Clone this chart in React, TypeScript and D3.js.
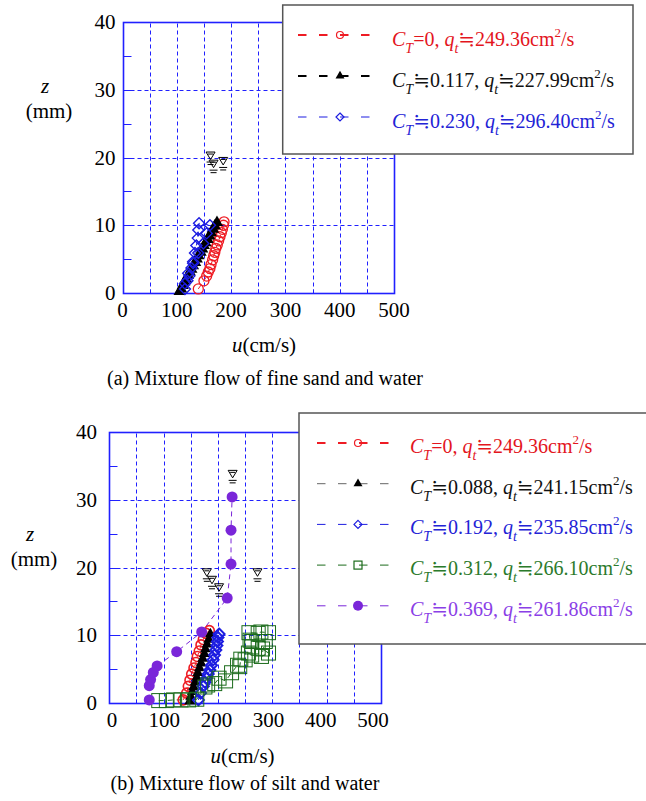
import React from 'react'
import * as d3 from 'd3'

const FONT = 'Liberation Serif, DejaVu Serif, serif'

const RED = '#ee1c24'
const BLUE = '#1c1ce0'
const GREEN = '#1b6b1b'
const PURPLE = '#7a26d9'
const GRID = '#2020ff'

// u (cm/s), z (mm)
// (a) fine sand and water
const sandC0 = [[139.6, 0.6], [150, 1.8], [155, 2.5], [158, 3.1], [161, 3.6], [163, 4.2], [166, 4.9], [168, 5.5], [170, 6.0], [172, 6.6], [174.5, 7.1], [177, 7.7], [179.5, 8.3], [182, 8.9], [184, 9.4], [186, 10.0], [187, 10.5]]
const sand117 = [[105, 0.2], [108, 0.6], [111, 1.1], [114, 1.6], [117, 2.1], [121, 2.6], [124, 3.1], [127, 3.5], [130, 4.0], [134, 4.5], [137, 5.0], [140, 5.5], [144, 6.0], [147, 6.5], [150, 7.0], [153, 7.4], [157, 7.9], [160, 8.4], [163, 8.9], [167, 9.4], [170, 9.9], [174, 10.4]]
const sand230 = [[115, 0.6], [119.6, 1.8], [123, 2.5], [127, 3.7], [130, 4.6], [133.5, 5.9], [136, 7.0], [138.7, 8.1], [139.6, 9.3], [141, 10.3], [161, 10.0], [155, 8.8], [148.8, 7.3], [139.6, 5.9], [130, 4.4], [121, 2.9], [115, 1.4]]
const sandSurface = [[162.2, 19.7], [167.7, 18.5], [185.4, 18.9]]
const sandCt = ['=0', '≒0.117', '≒0.230']
const sandQt = ['249.36', '227.99', '296.40']

// (b) silt and water
const siltC0 = [[136, 0.5], [142.4, 1.5], [145.4, 2.5], [148.5, 3.4], [151.6, 4.3], [155.9, 5.2], [159.5, 6.0], [162, 6.9], [165.6, 7.7], [168.8, 8.6], [173, 9.4], [178, 10.3], [184, 10.7]]
const silt088 = [[148, 0.3], [150, 1.0], [153, 1.7], [155, 2.4], [158, 3.1], [161, 3.8], [163, 4.5], [166, 5.2], [169, 5.9], [172, 6.6], [175, 7.3], [177, 8.0], [180, 8.7], [183, 9.4], [186, 10.2]]
const silt192 = [[164, 0.5], [168, 1.5], [173, 2.5], [176, 3.1], [179, 3.7], [182, 4.3], [185, 4.9], [188, 5.6], [191, 6.4], [193.5, 7.1], [196, 7.85], [198, 8.5], [199, 9.1], [200, 9.7], [202, 10.2]]
const silt312 = [[91, 0.4], [105, 0.4], [118, 0.5], [132, 0.5], [146, 0.5], [161, 0.6], [176, 2.4], [181, 2.7], [194, 2.9], [202, 3.7], [214, 3.3], [225, 4.5], [236, 5.6], [240, 5.4], [242, 6.5], [250, 6.4], [256, 7.4], [262, 7.1], [262, 8.3], [274, 8.1], [282, 8.0], [293, 7.4], [280, 6.9], [287, 9.1], [262, 9.1], [259, 9.3], [257, 10.4], [274, 10.3], [279, 10.5], [293, 10.4]]
const silt369 = [[73.5, 0.5], [73.5, 2.6], [76, 3.5], [81, 4.55], [88, 5.5], [124, 7.6], [170, 10.5], [217, 15.5], [224, 20.5], [224, 25.5], [226, 30.4]]
const siltSurface = [[227, 33.2], [179.5, 18.7], [189, 17.6], [202, 16.5], [272.7, 18.7]]
const siltCt = ['=0', '≒0.088', '≒0.192', '≒0.312', '≒0.369']
const siltQt = ['249.36', '241.15', '235.85', '266.10', '261.86']

const xTickValues = [0, 100, 200, 300, 400, 500]
const xGridValues = [50, 100, 150, 200, 250, 300, 350, 400, 450]
const yTickValues = [0, 10, 20, 30, 40]
const yGridValues = [10, 20, 30]
const yMinorValues = [0, 5, 10, 15, 20, 25, 30, 35, 40]

// keep 1px lines crisp
const snap = v => Math.round(v) + 0.5

function Marker({ kind, cx, cy, s, color, sw = 1.3 }) {
  if (kind === 'circle') return <circle cx={cx} cy={cy} r={s} fill="none" stroke={color} strokeWidth={sw} />
  if (kind === 'dot') return <circle cx={cx} cy={cy} r={s} fill={color} />
  if (kind === 'triangle') {
    const h = s * Math.sqrt(3) / 2
    return <path d={`M${cx},${cy - h * 2 / 3}L${cx + s / 2},${cy + h / 3}L${cx - s / 2},${cy + h / 3}Z`} fill={color} />
  }
  if (kind === 'diamond') return <path d={`M${cx},${cy - s}L${cx + s},${cy}L${cx},${cy + s}L${cx - s},${cy}Z`} fill="none" stroke={color} strokeWidth={sw} />
  return <rect x={cx - s} y={cy - s} width={2 * s} height={2 * s} fill="none" stroke={color} strokeWidth={sw} />
}

function Surface({ cx, cy }) {
  return <g stroke="#000" strokeWidth={1} fill="none">
    <path d={`M${cx - 4.5},${cy - 7.5}L${cx + 4.5},${cy - 7.5}L${cx},${cy}Z`} />
    <line x1={cx - 2.5} x2={cx + 2.5} y1={cy - 5.5} y2={cy - 5.5} />
    <line x1={cx - 4} x2={cx + 4} y1={cy + 2.5} y2={cy + 2.5} />
    <line x1={cx - 3} x2={cx + 3} y1={cy + 5} y2={cy + 5} />
  </g>
}

function LegendLabel({ x, y, ct, qt, color }) {
  return <text x={x} y={y} fill={color} fontSize={20}>
    <tspan fontStyle="italic">C</tspan>
    <tspan fontStyle="italic" fontSize={14} dy={7}>T</tspan>
    <tspan dy={-7}>{ct + ', '}</tspan>
    <tspan fontStyle="italic">q</tspan>
    <tspan fontStyle="italic" fontSize={14} dy={7}>t</tspan>
    <tspan dy={-7}>{'≒' + qt + 'cm'}</tspan>
    <tspan fontSize={13} dy={-9}>2</tspan>
    <tspan dy={9}>/s</tspan>
  </text>
}

function Panel({ frame, series, surface, legend, labelRange, yLabelX, zLabel, uLabel, caption }) {
  const x = d3.scaleLinear().domain([0, 500]).range([frame.left, frame.right])
  const y = d3.scaleLinear().domain([0, 40]).range([frame.bottom, frame.top])
  const xl = d3.scaleLinear().domain([0, 500]).range(labelRange || [frame.left, frame.right])
  const line = d3.line().x(d => x(d[0])).y(d => y(d[1]))
  const x0 = snap(x(0)), x1 = snap(x(500)), y0 = snap(y(0)), y1 = snap(y(40))

  return <g>
    {xGridValues.map(v => <line key={'gx' + v} x1={snap(x(v))} x2={snap(x(v))} y1={y0} y2={y1}
      stroke={GRID} strokeWidth={1} strokeDasharray="4,3" />)}
    {yGridValues.map(v => <line key={'gy' + v} x1={x0} x2={x1} y1={snap(y(v))} y2={snap(y(v))}
      stroke={GRID} strokeWidth={1} strokeDasharray="4,3" />)}
    {yMinorValues.map(v => <line key={'ty' + v} x1={x0} x2={x0 + 8} y1={snap(y(v))} y2={snap(y(v))}
      stroke={GRID} strokeWidth={1} />)}
    {xGridValues.map(v => <line key={'tx' + v} x1={snap(x(v))} x2={snap(x(v))} y1={y0} y2={y0 - 4}
      stroke={GRID} strokeWidth={1} />)}
    <rect x={x0} y={y1} width={x1 - x0} height={y0 - y1} fill="none" stroke={GRID} strokeWidth={1.6} />

    {series.map((s, i) => <path key={'l' + i} d={line(s.data)} fill="none" stroke={s.color}
      strokeWidth={1} strokeDasharray="5,4" />)}
    {series.map((s, i) => <g key={'m' + i}>
      {s.data.map((d, j) => <Marker key={j} kind={s.marker} cx={x(d[0])} cy={y(d[1])} s={s.size} color={s.color} sw={s.sw} />)}
    </g>)}
    {surface.map((d, i) => <Surface key={'s' + i} cx={x(d[0])} cy={y(d[1])} />)}

    {xTickValues.map(v => <text key={'xl' + v} x={xl(v)} y={frame.bottom + 24} textAnchor="middle"
      fontSize={21}>{v}</text>)}
    {yTickValues.map(v => <text key={'yl' + v} x={yLabelX} y={y(v) + 7} textAnchor="end"
      fontSize={21}>{v}</text>)}
    <text x={zLabel[0]} y={zLabel[1]} textAnchor="middle" fontSize={21} fontStyle="italic">z</text>
    <text x={zLabel[0] + 4} y={zLabel[1] + 25} textAnchor="middle" fontSize={21}>(mm)</text>
    <text x={uLabel[0]} y={uLabel[1]} textAnchor="middle" fontSize={21}>
      <tspan fontStyle="italic">u</tspan>(cm/s)
    </text>
    <text x={caption.x} y={caption.y} textAnchor="middle" fontSize={20}>{caption.text}</text>

    <rect x={legend.x} y={legend.y} width={legend.w} height={legend.h} fill="#fff" stroke="#555" strokeWidth={1.5} />
    {series.map((s, i) => {
      const ly = legend.row0 + i * legend.step
      return <g key={'lg' + i}>
        <line x1={legend.lx1} x2={legend.lx2} y1={ly} y2={ly} stroke={s.legendStroke || s.color}
          strokeWidth={s.legendWidth} strokeDasharray="8.5,12.5" />
        <Marker kind={s.marker} cx={legend.mx} cy={ly} s={s.legendSize} color={s.color} sw={1.2} />
        <LegendLabel x={legend.tx} y={ly + legend.textDy} ct={s.ct} qt={s.qt} color={s.textColor} />
      </g>
    })}
  </g>
}

export default function App() {
  const sandSeries = [
    { data: sandC0, color: RED, marker: 'circle', size: 5, legendSize: 3.5, legendWidth: 2, textColor: '#e3151d', ct: sandCt[0], qt: sandQt[0] },
    { data: sand117, color: '#000', marker: 'triangle', size: 12, legendSize: 9, legendWidth: 2, textColor: '#111', ct: sandCt[1], qt: sandQt[1] },
    { data: sand230, color: BLUE, marker: 'diamond', size: 5.5, sw: 1.4, legendSize: 4, legendWidth: 1, textColor: '#2323d6', ct: sandCt[2], qt: sandQt[2] },
  ]
  const siltSeries = [
    { data: siltC0, color: RED, marker: 'circle', size: 5, sw: 1.6, legendSize: 3.5, legendWidth: 2, textColor: '#e3151d', ct: siltCt[0], qt: siltQt[0] },
    { data: silt088, color: '#000', marker: 'triangle', size: 11, legendSize: 9, legendWidth: 1, legendStroke: '#666', textColor: '#111', ct: siltCt[1], qt: siltQt[1] },
    { data: silt192, color: BLUE, marker: 'diamond', size: 5.5, sw: 2, legendSize: 4, legendWidth: 1, textColor: '#2323d6', ct: siltCt[2], qt: siltQt[2] },
    { data: silt312, color: GREEN, marker: 'square', size: 7, sw: 1, legendSize: 4, legendWidth: 1, textColor: '#2b7a2b', ct: siltCt[3], qt: siltQt[3] },
    { data: silt369, color: PURPLE, marker: 'dot', size: 5.5, legendSize: 5, legendWidth: 1, textColor: '#8a40e6', ct: siltCt[4], qt: siltQt[4] },
  ]

  return <svg width={646} height={801} fontFamily={FONT}
    style={{ position: 'absolute', left: 0, top: 0, background: '#fff', fontFamily: FONT }}>
    <Panel
      frame={{ left: 122.5, right: 394, top: 22, bottom: 293 }}
      series={sandSeries}
      surface={sandSurface}
      legend={{ x: 282.7, y: 5, w: 350.3, h: 149, row0: 35, step: 41, lx1: 298, lx2: 382, mx: 340, tx: 392, textDy: 11 }}
      yLabelX={115.5}
      zLabel={[45, 93]}
      uLabel={[264, 352]}
      caption={{ x: 265, y: 385, text: '(a) Mixture flow of fine sand and water' }}
    />
    <Panel
      frame={{ left: 109.3, right: 381, top: 431.7, bottom: 703.3 }}
      series={siltSeries}
      surface={siltSurface}
      legend={{ x: 299, y: 413, w: 350, h: 231, row0: 443, step: 40.7, lx1: 317, lx2: 401, mx: 358, tx: 410, textDy: 10 }}
      labelRange={[112, 373]}
      yLabelX={97}
      zLabel={[30, 541]}
      uLabel={[242.5, 763]}
      caption={{ x: 245, y: 790, text: '(b) Mixture flow of silt and water' }}
    />
  </svg>
}
